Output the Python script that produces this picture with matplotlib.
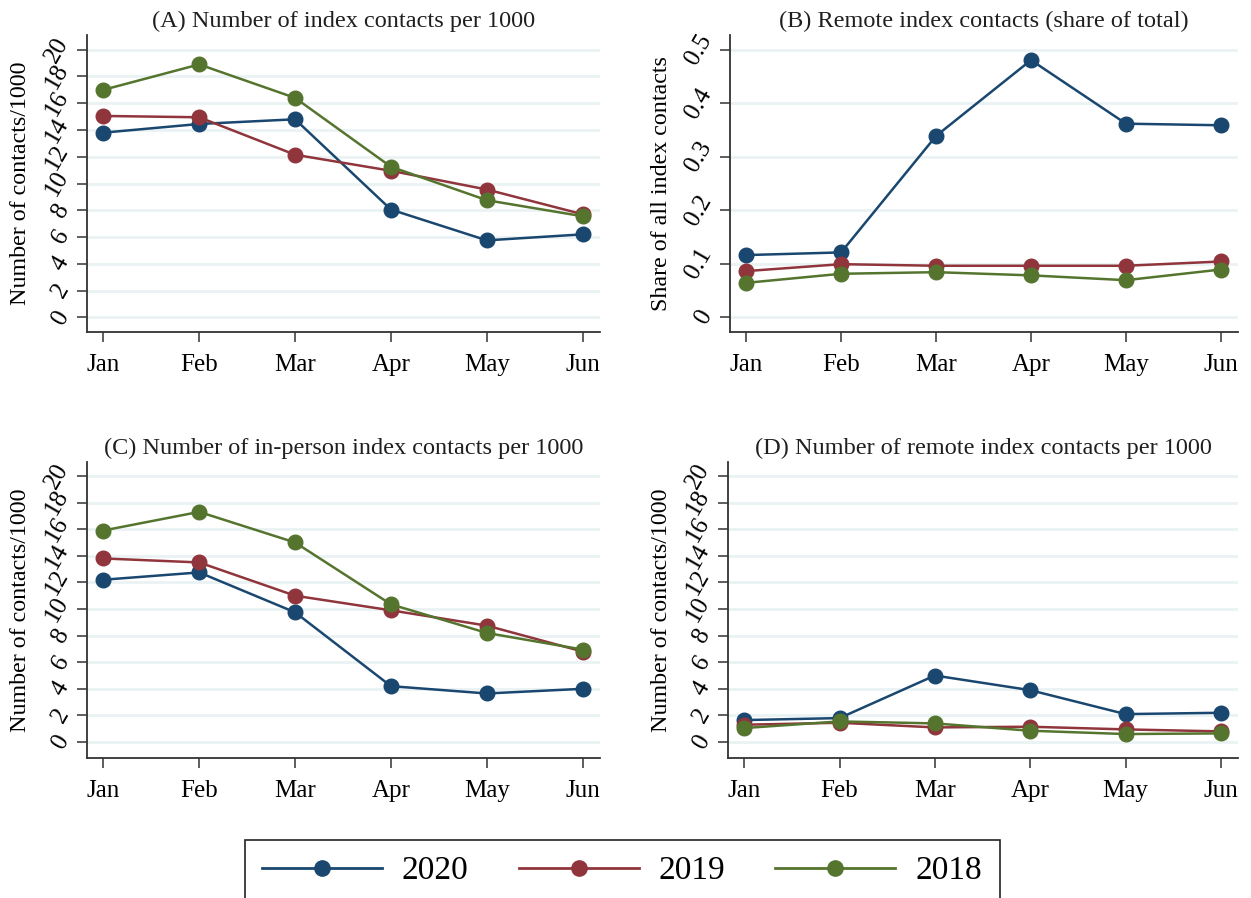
import matplotlib
matplotlib.use("Agg")
import matplotlib.pyplot as plt
from matplotlib.lines import Line2D
from matplotlib.patches import Rectangle

plt.rcParams["font.family"] = ["Liberation Serif", "DejaVu Serif"]

months = ["Jan", "Feb", "Mar", "Apr", "May", "Jun"]
years = ["2020", "2019", "2018"]
colors = {"2020": "#1a476f", "2019": "#90353b", "2018": "#55752f"}

# (A) index contacts per 1000
a_2020 = [13.8, 14.45, 14.8, 8.05, 5.75, 6.2]
a_2019 = [15.05, 14.95, 12.15, 10.95, 9.55, 7.7]
a_2018 = [17.0, 18.9, 16.4, 11.25, 8.75, 7.55]

# (B) remote share of total
b_2020 = [0.116, 0.121, 0.339, 0.481, 0.362, 0.359]
b_2019 = [0.086, 0.099, 0.096, 0.096, 0.096, 0.104]
b_2018 = [0.064, 0.081, 0.084, 0.078, 0.069, 0.089]

# (C) in-person index contacts per 1000
c_2020 = [12.2, 12.75, 9.75, 4.2, 3.65, 4.0]
c_2019 = [13.8, 13.5, 11.0, 9.9, 8.75, 6.8]
c_2018 = [15.9, 17.3, 15.0, 10.35, 8.2, 6.95]

# (D) remote index contacts per 1000
d_2020 = [1.65, 1.8, 5.0, 3.9, 2.1, 2.2]
d_2019 = [1.3, 1.45, 1.1, 1.15, 0.95, 0.8]
d_2018 = [1.05, 1.55, 1.4, 0.85, 0.6, 0.65]

W, H = 1251, 898
fig = plt.figure(figsize=(W / 100, H / 100), dpi=100)


def add_ax(left, top, right, bottom):
    return fig.add_axes([left / W, 1 - bottom / H, (right - left) / W, (bottom - top) / H])


def style(ax, title, ylabel, yticks, ylim, label_x):
    ax.set_xlim(-0.17, 5.18)
    ax.set_ylim(*ylim)
    ax.set_xticks(range(6))
    ax.set_xticklabels(months, fontsize=18)
    ax.set_yticks(yticks)
    ax.set_yticklabels([f"{t:g}" for t in yticks], fontsize=18, rotation=60,
                       ha="right", va="center")
    for s in ["top", "right"]:
        ax.spines[s].set_visible(False)
    for s in ["left", "bottom"]:
        ax.spines[s].set_linewidth(1.3)
        ax.spines[s].set_color("#333333")
    ax.tick_params(direction="out", length=7, width=1.1, color="#333333")
    ax.tick_params(axis="x", pad=9)
    ax.tick_params(axis="y", pad=3)
    ax.grid(axis="y", color="#eaf2f3", linewidth=2)
    ax.set_axisbelow(True)
    ax.set_title(title, fontsize=17.5, color="#1f1f1f", pad=6)
    ax.set_ylabel(ylabel, fontsize=17.3)
    ax.yaxis.set_label_coords(label_x, 0.5)


def draw(ax, series):
    for yr, vals in zip(years, series):
        ax.plot(range(6), vals, color=colors[yr], lw=1.8, marker="o",
                markersize=10.5, zorder=3)


axA = add_ax(87, 35, 600, 332)
axB = add_ax(730, 35, 1238, 332)
axC = add_ax(87, 462, 600, 758)
axD = add_ax(728, 462, 1238, 758)

ticks20 = list(range(0, 21, 2))
draw(axA, [a_2020, a_2019, a_2018])
style(axA, "(A) Number of index contacts per 1000", "Number of contacts/1000",
      ticks20, (-1.1, 21.1), -0.11)
draw(axB, [b_2020, b_2019, b_2018])
style(axB, "(B) Remote index contacts (share of total)", "Share of all index contacts",
      [0, 0.1, 0.2, 0.3, 0.4, 0.5], (-0.028, 0.528), -0.114)
draw(axC, [c_2020, c_2019, c_2018])
style(axC, "(C) Number of in-person index contacts per 1000", "Number of contacts/1000",
      ticks20, (-1.2, 21.05), -0.11)
draw(axD, [d_2020, d_2019, d_2018])
style(axD, "(D) Number of remote index contacts per 1000", "Number of contacts/1000",
      ticks20, (-1.2, 21.05), -0.11)

# legend box runs off the bottom edge like the original
fig.patches.append(Rectangle((245 / W, -0.05), 755 / W, (H - 840) / H + 0.05,
                             transform=fig.transFigure, fill=False,
                             edgecolor="#222222", lw=1.2, clip_on=False))
handles = [Line2D([0], [0], color=colors[y], lw=2, marker="o", markersize=11)
           for y in years]
fig.legend(handles, years, loc="center", ncol=3, frameon=False, fontsize=24,
           bbox_to_anchor=(622 / W, 1 - 871 / H), handlelength=3.6,
           handletextpad=0.6, columnspacing=1.5)

fig.savefig("out.png", dpi=100)
